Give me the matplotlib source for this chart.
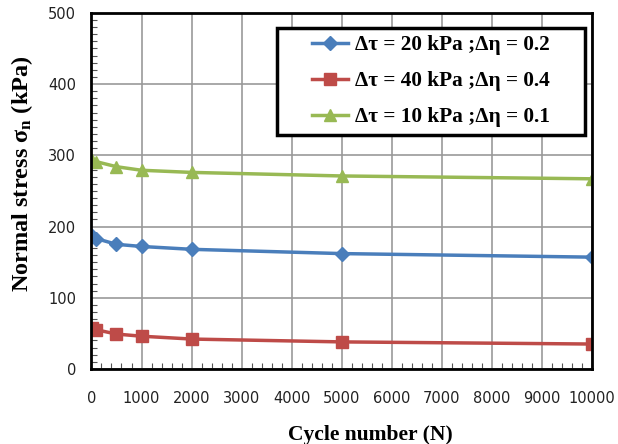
import numpy as np
import matplotlib
matplotlib.use('Agg')
import matplotlib.pyplot as plt
from matplotlib.ticker import MultipleLocator
from matplotlib.patches import Rectangle

plt.rcParams['mathtext.fontset'] = 'custom'
plt.rcParams['mathtext.rm'] = 'Liberation Serif'
plt.rcParams['mathtext.bf'] = 'Liberation Serif:bold'

cycles = [10, 100, 500, 1000, 2000, 5000, 10000]
stress_20 = [187, 183, 175, 172, 168, 162, 157]
stress_40 = [58, 55, 49, 46, 42, 38, 35]
stress_10 = [294, 291, 284, 279, 276, 271, 267]

labels = ['Δτ = 20 kPa ;Δη = 0.2', 'Δτ = 40 kPa ;Δη = 0.4', 'Δτ = 10 kPa ;Δη = 0.1']
x_ticks = np.arange(0, 10001, 1000)
y_ticks = np.arange(0, 501, 100)

fig = plt.figure(figsize=(6.18, 4.44), dpi=100)
ax = fig.add_axes([0.148, 0.169, 0.810, 0.802])

ax.plot(cycles, stress_20, color='#4A7EBB', marker='D', markersize=7, lw=2.5, label=labels[0])
ax.plot(cycles, stress_40, color='#BE4B48', marker='s', markersize=9, lw=2.5, label=labels[1])
ax.plot(cycles, stress_10, color='#98B954', marker='^', markersize=9, lw=2.5, label=labels[2])

ax.set_xlim(0, 10000)
ax.set_ylim(0, 500)
ax.set_xticks(x_ticks)
ax.set_yticks(y_ticks)
ax.xaxis.set_minor_locator(MultipleLocator(200))
ax.yaxis.set_minor_locator(MultipleLocator(10))
ax.tick_params(which='both', direction='in', color='#555555')
ax.tick_params(which='major', length=0, labelsize=10.5, labelcolor='#222222')
ax.tick_params(axis='y', which='major', pad=11)
ax.tick_params(axis='x', which='major', pad=16)
ax.tick_params(which='minor', length=4, width=0.8)
ax.grid(True, which='major', color='#999999', lw=1.2)
ax.set_axisbelow(True)
for s in ax.spines.values():
    s.set_linewidth(2)

ax.set_xlabel('Cycle number (N)', fontsize=15.5, fontweight='bold', family='Liberation Serif')
ax.xaxis.set_label_coords(0.557, -0.157)
ax.set_ylabel(r'Normal stress σ$\mathbf{_n}$ (kPa)', fontsize=17.5, fontweight='bold',
              family='Liberation Serif')
ax.yaxis.set_label_coords(-0.112, 0.548)

# legend box drawn separately so it can be wider than its contents
box = Rectangle((0.371, 0.657), 0.615, 0.301, transform=ax.transAxes, facecolor='white',
                edgecolor='black', lw=2.5, zorder=5)
ax.add_patch(box)
leg = ax.legend(loc='center', bbox_to_anchor=(0.6785, 0.8075), frameon=False,
                handlelength=1.7, handletextpad=0.3, labelspacing=0.75, borderpad=0.2,
                prop={'family': 'Liberation Serif', 'weight': 'bold', 'size': 15.3})
leg.set_zorder(6)

fig.savefig('out.png', dpi=100)
